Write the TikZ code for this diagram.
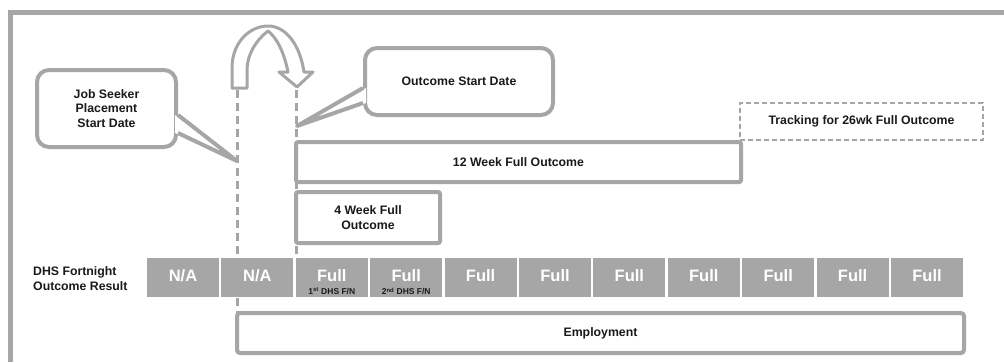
\documentclass[tikz,border=0pt]{standalone}
\usepackage{fontspec}
\setmainfont{Liberation Sans}
\usetikzlibrary{calc}
\definecolor{lg}{HTML}{A6A6A6}
\definecolor{tx}{HTML}{1A1A1A}
\begin{document}
\begin{tikzpicture}[x=1pt,y=-1pt,
  lbl/.style={font=\fontsize{12.3}{14.8}\selectfont\bfseries, text=tx, align=center},
  box/.style={draw=lg, line width=4pt, fill=white, rounded corners=2pt, inner sep=0pt},
  callbox/.style={draw=lg, line width=4pt, fill=white, rounded corners=12pt, inner sep=0pt},
  trackbox/.style={draw=lg, line width=1.8pt, dash pattern=on 5pt off 3pt, fill=white, inner sep=0pt},
  cell/.style={fill=lg, minimum width=72pt, minimum height=39pt, inner sep=0pt, text=white, font=\fontsize{16.5}{18}\selectfont\bfseries},
  sub/.style={text=tx, inner sep=0pt, font=\fontsize{8.5}{9}\selectfont\bfseries},
  guide/.style={draw=lg, line width=3pt, dash pattern=on 8pt off 5pt},
  ptr/.style={draw=lg, line width=4pt, line join=round},
  frame/.style={draw=lg, line width=5pt}]
\useasboundingbox (0,0) rectangle (1004,362);

% outer frame
\draw[frame] (10.5,362) -- (10.5,12.5) -- (1004,12.5);

% dashed guide lines
\coordinate (gA1) at (237,90);
\coordinate (gA2) at (237,313);
\coordinate (gB1) at (296,90);
\coordinate (gB2) at (296,258);
\draw[guide] (gA1) -- (gA2);
\draw[guide] (gB1) -- (gB2);

% curved block arrow
\filldraw[draw=lg, fill=white, line width=3pt, line join=round]
  (232,88) -- (232,68) .. controls (232,42) and (250,26) .. (268,26)
  .. controls (286,26) and (300,45) .. (304,72) -- (313,72) -- (297,87) -- (279,72) -- (288,72)
  .. controls (284,52) and (277,38) .. (268,31)
  .. controls (256,40) and (247,55) .. (247,70) -- (247,88) -- cycle;

% callouts
\node[callbox, lbl, minimum width=139pt, minimum height=77pt] (js) at (106.5,108.5) {Job Seeker\\Placement\\Start Date};
\coordinate (jsTip) at (237,161);
\fill[white] ($(js.east)+(-3,6.5)$) -- (jsTip) -- ($(js.east)+(-3,24.5)$) -- cycle;
\draw[ptr] ($(js.east)+(0,6.5)$) -- (jsTip) -- ($(js.east)+(0,24.5)$);

\node[callbox, lbl, minimum width=188pt, minimum height=67pt] (os) at (459,81.5) {Outcome Start Date};
\coordinate (osTip) at (297,126);
\fill[white] ($(os.west)+(3,6.5)$) -- (osTip) -- ($(os.west)+(3,21.5)$) -- cycle;
\draw[ptr] ($(os.west)+(0,6.5)$) -- (osTip) -- ($(os.west)+(0,21.5)$);

% outcome boxes
\node[trackbox, lbl, minimum width=243pt, minimum height=37pt] (trk) at (861.5,121.5) {Tracking for 26wk Full Outcome};
\node[box, lbl, minimum width=445pt, minimum height=40pt] (w12) at (518.5,162) {12 Week Full Outcome};
\node[box, lbl, minimum width=144pt, minimum height=51pt] (w4) at (368,217.5) {4 Week Full\\Outcome};

% row label
\node[lbl, align=left, anchor=west, inner sep=0pt] (rowlbl) at (33,278.5) {DHS Fortnight\\Outcome Result};

% cells
\foreach \i/\t in {0/N\slash A,1/N\slash A,2/Full,3/Full,4/Full,5/Full,6/Full,7/Full,8/Full,9/Full,10/Full}{
  \node[cell] (c\i) at ({183+74.4*\i},277.5) {\strut\t};
}
\node[sub] (s2) at ($(c2.center)+(0,14)$) {1\textsuperscript{st} DHS F/N};
\node[sub] (s3) at ($(c3.center)+(0,14)$) {2\textsuperscript{nd} DHS F/N};

% employment
\node[box, lbl, rounded corners=3pt, minimum width=727pt, minimum height=40pt] (emp) at (600.5,333) {Employment};
\end{tikzpicture}
\end{document}
